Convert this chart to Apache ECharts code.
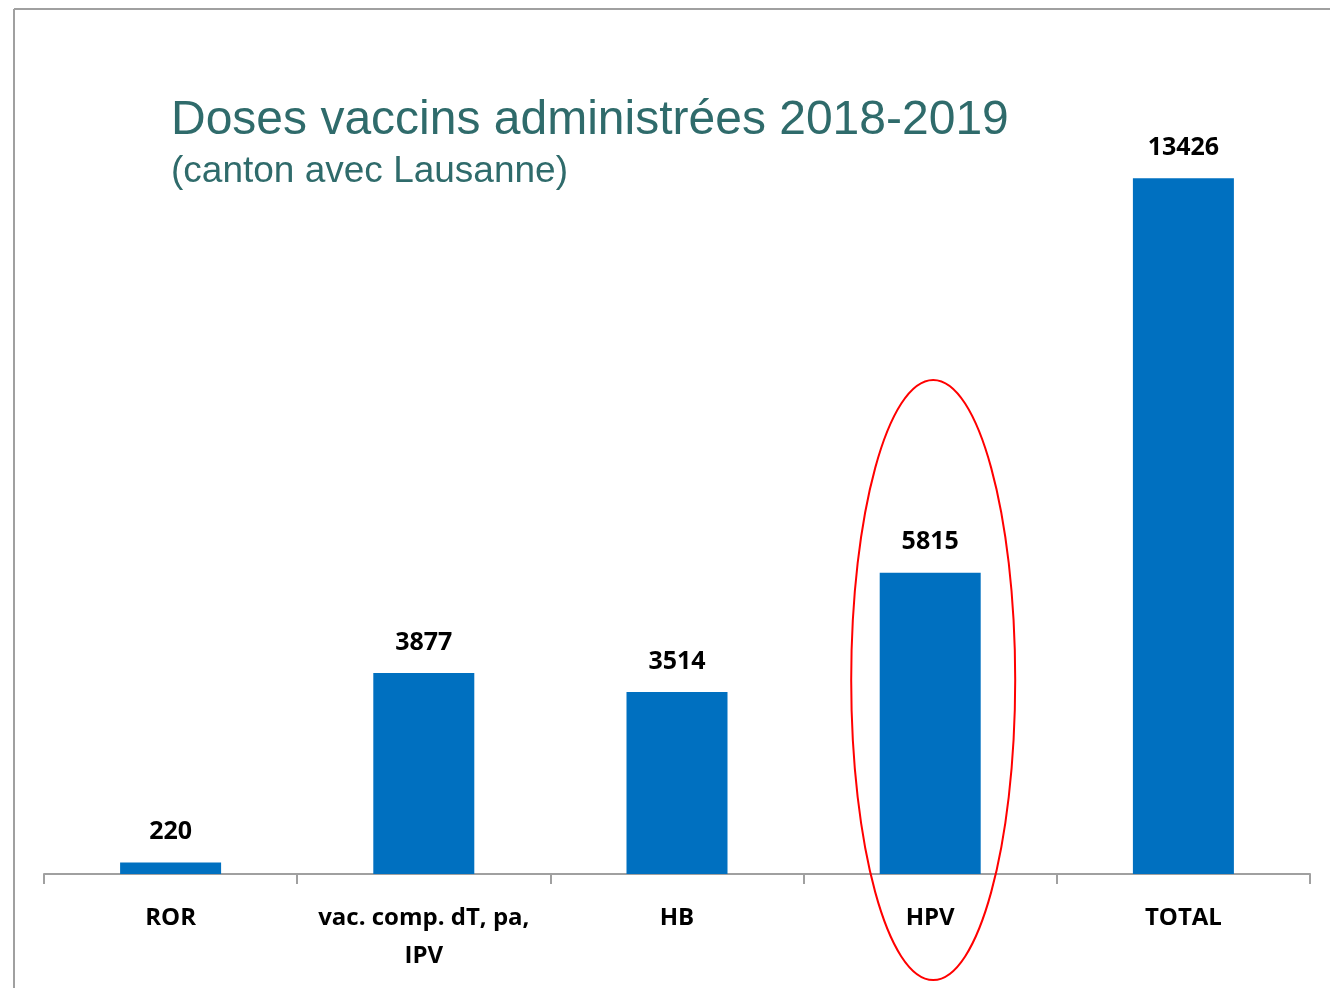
<!DOCTYPE html>
<html>
<head>
<meta charset="utf-8">
<script src="https://cdn.jsdelivr.net/npm/echarts@6/dist/echarts.min.js"></script>
<style>
  html, body { margin: 0; padding: 0; background: #fff; }
  #chart { width: 1330px; height: 988px; }
</style>
</head>
<body>
<div id="chart"></div>
<script>
var myChart = echarts.init(document.getElementById("chart"));

// données
var categories = ["ROR", "vac. comp. dT, pa,\nIPV", "HB", "HPV", "TOTAL"];
var doses = [220, 3877, 3514, 5815, 13426];

var borders = [
	{ type: "line", shape: { x1: 14, y1: 9, x2: 1330, y2: 9 }, style: { stroke: "#a0a0a0", lineWidth: 2 } },
	{ type: "line", shape: { x1: 14, y1: 9, x2: 14, y2: 988 }, style: { stroke: "#a0a0a0", lineWidth: 2 } }
];

var option = {
	backgroundColor: "#ffffff",
	animation: false,
	title: {
		text: "Doses vaccins administrées 2018-2019",
		subtext: "(canton avec Lausanne)",
		left: 166,
		top: 92,
		itemGap: 8,
		textStyle: {
			fontFamily: "Liberation Sans",
			fontSize: 48,
			fontWeight: "normal",
			color: "#2F6B6B"
		},
		subtextStyle: {
			fontFamily: "Liberation Sans",
			fontSize: 37,
			color: "#2F6B6B"
		}
	},
	grid: {
		left: 44,
		right: 20,
		top: 45,
		bottom: 114
	},
	xAxis: {
		type: "category",
		data: categories,
		axisLine: { lineStyle: { color: "#a0a0a0", width: 2 } },
		axisTick: { show: true, length: 10, interval: 0, lineStyle: { color: "#a0a0a0", width: 2 } },
		axisLabel: {
			interval: 0,
			margin: 25,
			fontFamily: "Open Sans",
			fontWeight: "bold",
			fontSize: 24,
			lineHeight: 38,
			color: "#000"
		}
	},
	yAxis: {
		type: "value",
		min: 0,
		max: 16000,
		show: false,
		splitLine: { show: false }
	},
	series: [
		{
			type: "bar",
			data: doses,
			barWidth: 101,
			itemStyle: { color: "#0070C0" },
			label: {
				show: true,
				position: "top",
				distance: 18,
				fontFamily: "Open Sans",
				fontWeight: "bold",
				fontSize: 25,
				color: "#000"
			}
		}
	],
	graphic: borders
};

myChart.setOption(option);

// ellipse rouge autour de HPV
var c = myChart.convertToPixel({ gridIndex: 0 }, ["HPV", 0]);
myChart.setOption({
	graphic: borders.concat([
		{
			type: "ellipse",
			shape: { cx: c[0] + 3, cy: 680, rx: 82, ry: 300 },
			style: { fill: "none", stroke: "#ff0000", lineWidth: 2 },
			z: 100
		}
	])
});

window.addEventListener("resize", function () {
	myChart.resize();
});
</script>
</body>
</html>
